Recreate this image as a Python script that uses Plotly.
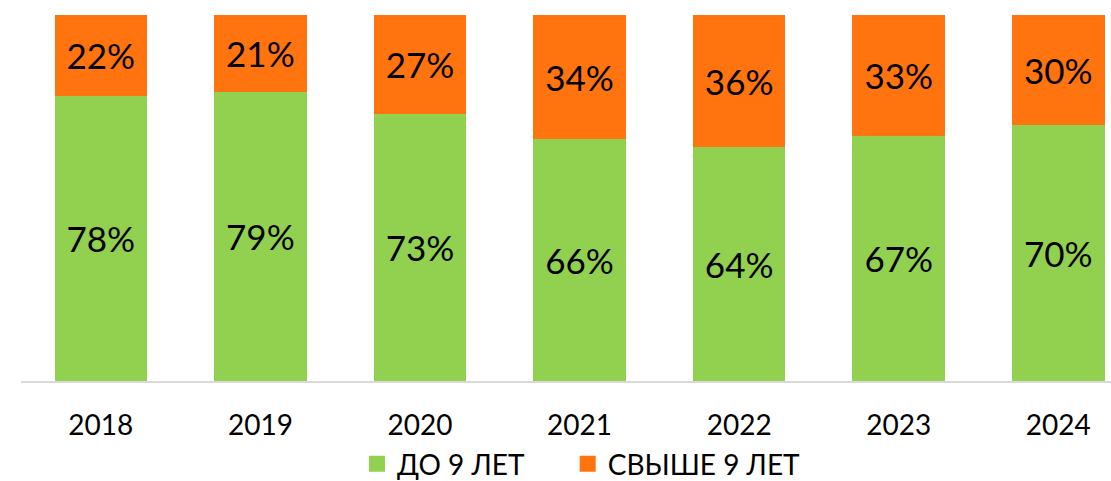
import plotly.graph_objects as go

years = ["2018", "2019", "2020", "2021", "2022", "2023", "2024"]
under_9 = [78, 79, 73, 66, 64, 67, 70]
over_9 = [22, 21, 27, 34, 36, 33, 30]
names = ["ДО 9 ЛЕТ", "СВЫШЕ 9 ЛЕТ"]
colors = ["#92D050", "#FF740F"]

font = "Lato"

fig = go.Figure()
for i, (vals, name, color) in enumerate(zip([under_9, over_9], names, colors)):
    fig.add_trace(go.Bar(
        x=years, y=vals, name=name,
        marker_color=color, marker_line_width=0,
        width=0.58,
        text=[f"{v}%" for v in vals],
        textposition="inside", insidetextanchor="middle",
        textfont=dict(family=font, size=35, color="black"),
        showlegend=False,
    ))
    # square legend swatch, each in its own legend box
    fig.add_trace(go.Scatter(
        x=[None], y=[None], mode="markers", name=name,
        marker=dict(symbol="square", size=22, color=color),
        legend="legend" if i == 0 else "legend2",
    ))

legend_style = dict(
    orientation="h", xref="container", yref="container",
    xanchor="left", y=0.035, yanchor="middle",
    font=dict(family=font, size=28, color="black"),
    itemwidth=30,
)

fig.update_layout(
    barmode="stack",
    width=1111, height=481,
    margin=dict(l=21, r=0, t=15, b=100, autoexpand=False),
    plot_bgcolor="white", paper_bgcolor="white",
    legend=dict(x=0.3213, **legend_style),
    legend2=dict(x=0.511, **legend_style),
)
fig.update_xaxes(
    type="category", range=[-0.5, 6.33], automargin=False,
    showline=True, linecolor="#D9D9D9", linewidth=2,
    showgrid=False, ticks="", ticklabelstandoff=18,
    tickfont=dict(family=font, size=28, color="black"),
)
fig.update_yaxes(range=[0, 100], visible=False, showgrid=False, automargin=False)

# drop the default body margin so the figure fills the window
fig.write_html("out.html", config={"displayModeBar": False},
               post_script="document.body.style.margin = '0';")
